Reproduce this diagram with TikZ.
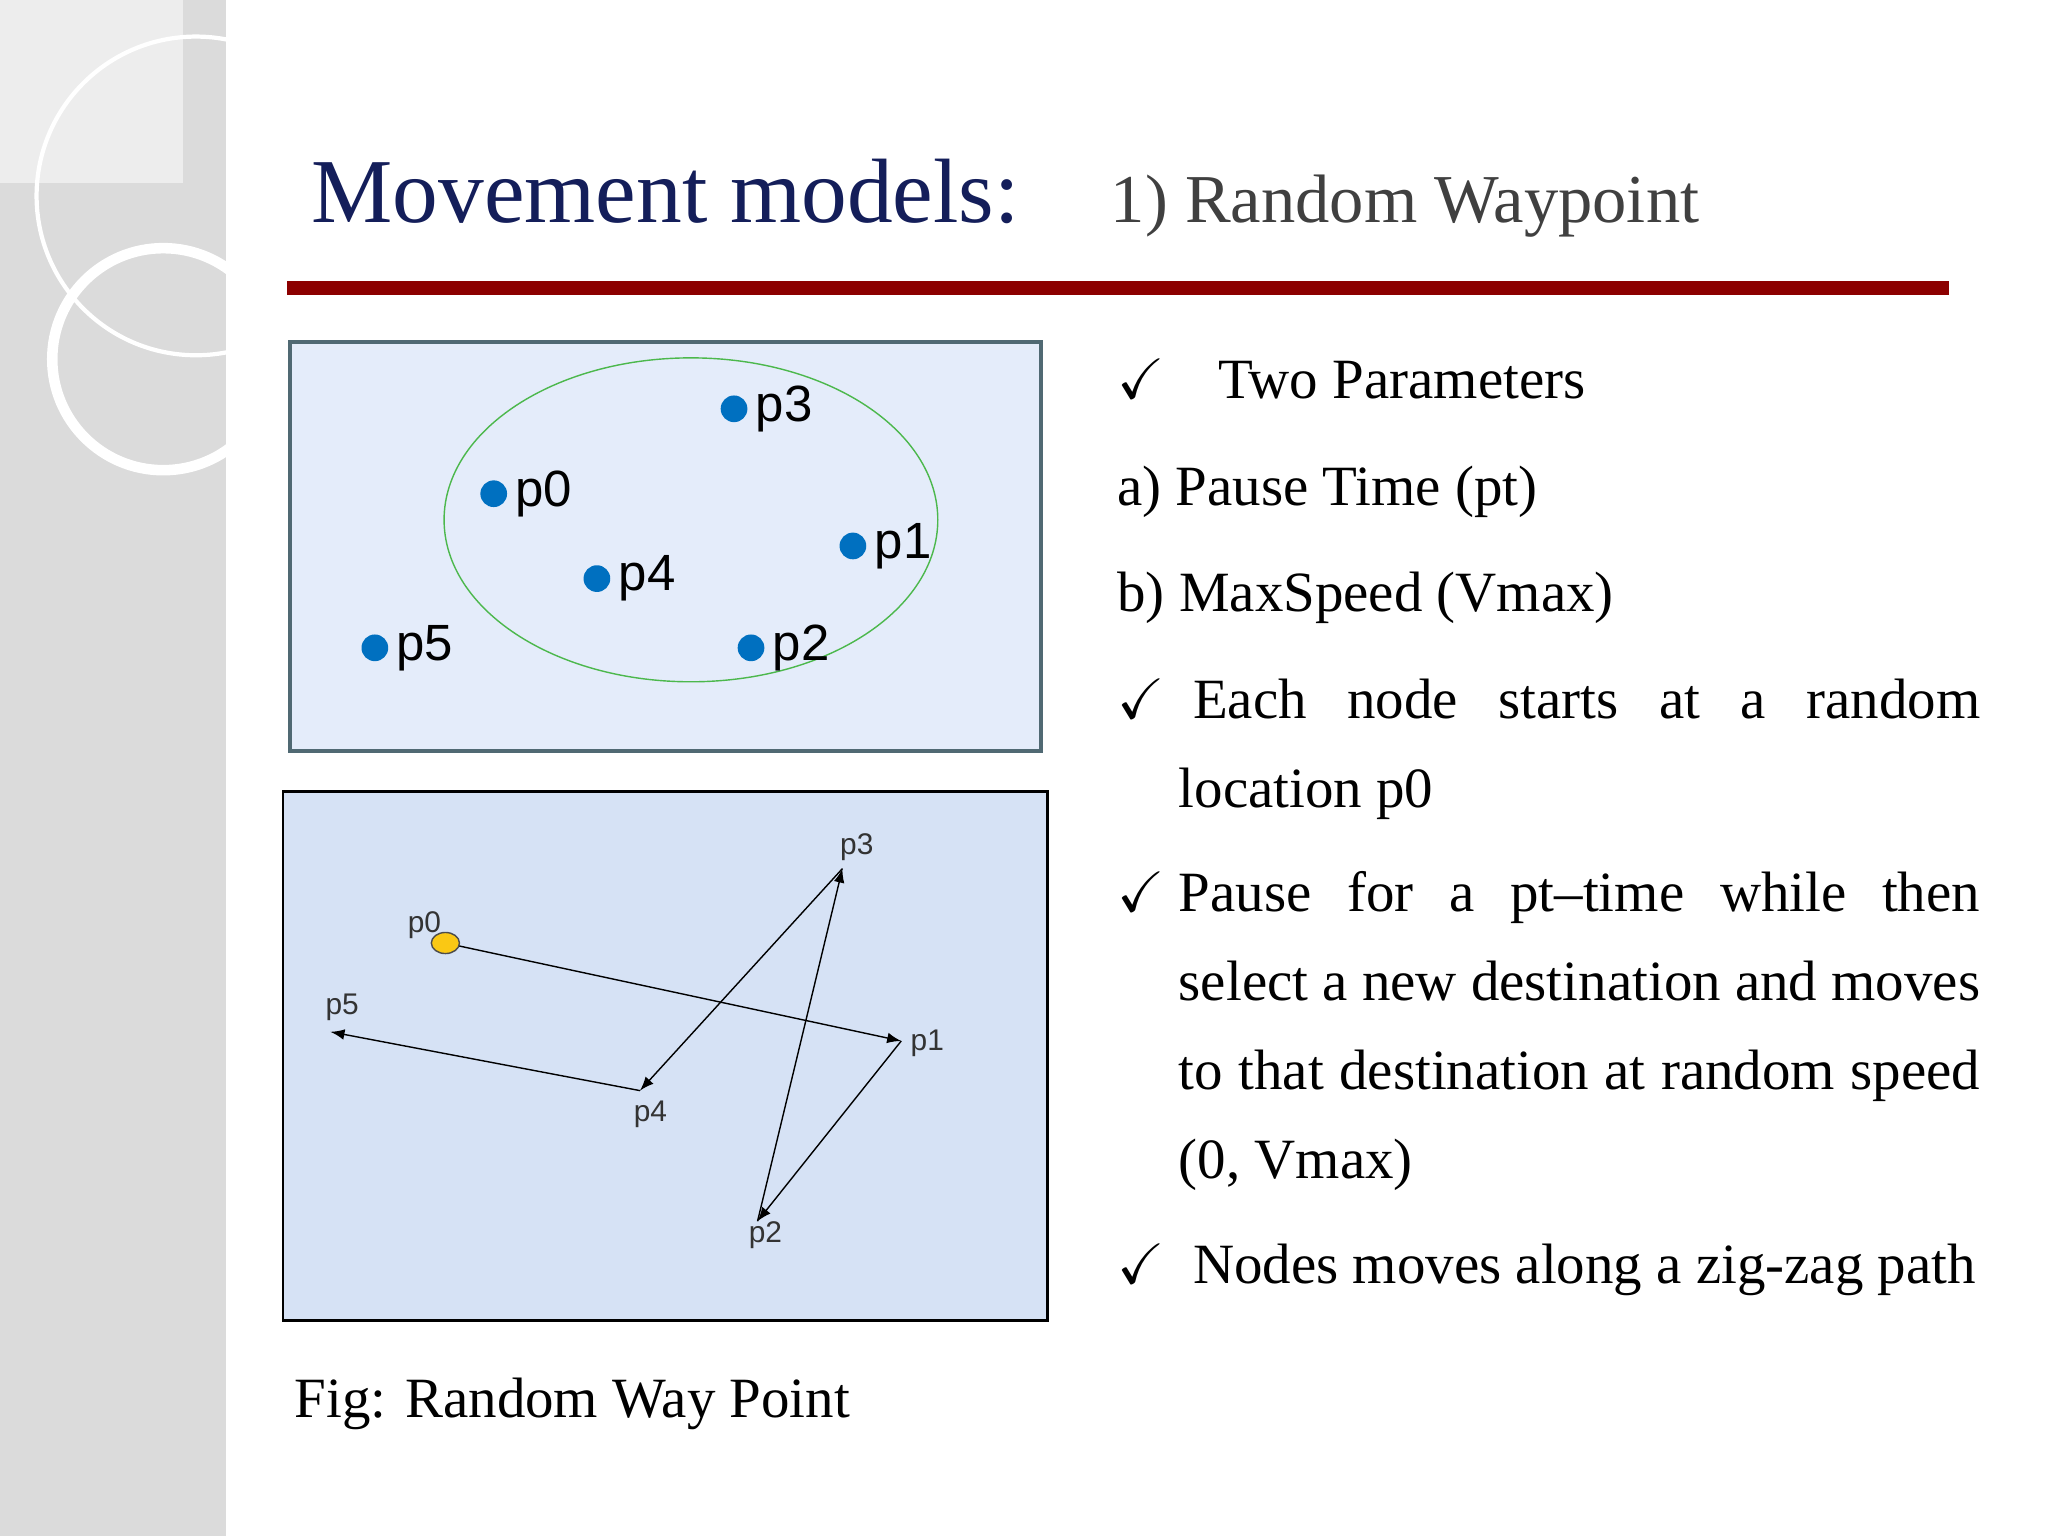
\documentclass[tikz,border=0pt]{standalone}
\usepackage{fontspec}
\setmainfont{Liberation Serif}
\newfontfamily\sff{Liberation Sans}
\usepackage{amssymb}
\usetikzlibrary{shapes.geometric}
\begin{document}
\begin{tikzpicture}[x=0.01306cm,y=-0.01306cm,
  dot/.style={circle,fill={rgb,255:red,0;green,112;blue,192},inner sep=0pt,minimum size=7.6pt},
  plab/.style={font=\sff\fontsize{14.5}{17}\selectfont,anchor=west,inner sep=1pt},
  slab/.style={font=\sff\fontsize{8.5}{9}\selectfont,text=black!80,inner sep=1pt},
  body/.style={font=\fontsize{16.2}{20}\selectfont,anchor=base west,inner sep=0pt},
  arr/.style={-latex,thin,black}]
\useasboundingbox (0,0) rectangle (1568,1176);
\fill[white] (0,0) rectangle (1568,1176);
\fill[black!14] (0,0) rectangle (173,1176);
\begin{scope}
\clip (0,0) rectangle (173,1176);
\fill[black!7] (0,0) rectangle (140,140);
\draw[white,line width=1.2pt] (150,150) circle (122);
\draw[white,line width=3pt] (125,275) circle (85);
\end{scope}
\node[font=\fontsize{26}{30}\selectfont,text={rgb,255:red,20;green,30;blue,90},anchor=base west,inner sep=0pt] (t1) at (238,170) {Movement models:};
\node[font=\fontsize{19.5}{23}\selectfont,text=black!75,anchor=base west,inner sep=0pt] (t2) at (850,170) {1) Random Waypoint};
\fill[red!55!black] (220,215) rectangle (1492,226);
% top figure
\draw[line width=1.1pt,fill={rgb,255:red,228;green,236;blue,250},draw={rgb,255:red,80;green,105;blue,115}] (222,262) rectangle (797,575);
\draw[green!60!black!70,thin] (529,398) ellipse (189 and 124);
\foreach \n/\x/\y in {p3/562/313,p0/378/378,p1/653/418,p4/457/443,p5/287/496,p2/575/496}{
  \node[dot] (\n) at (\x,\y) {};
  \node[plab] at ([xshift=1pt]\n.east) {\n};}
% bottom figure
\draw[line width=0.6pt,fill={rgb,255:red,214;green,226;blue,245}] (217,606) rectangle (802,1011);
\coordinate (q0) at (341,722);
\coordinate (q1) at (690,797);
\coordinate (q2) at (580,935);
\coordinate (q3) at (645,665);
\coordinate (q4) at (490,835);
\coordinate (q5) at (253,790);
\draw[arr] (q0) -- (q1);
\draw[arr] (q1) -- (q2);
\draw[arr] (q2) -- (q3);
\draw[arr] (q3) -- (q4);
\draw[arr] (q4) -- (q5);
\node[ellipse,draw=black!70,fill={rgb,255:red,250;green,200;blue,20},minimum width=8pt,minimum height=6pt,inner sep=0pt] (o0) at (q0) {};
\node[slab] at (325,708) {p0};
\node[slab] at (262,771) {p5};
\node[slab] at (710,799) {p1};
\node[slab] at (498,853) {p4};
\node[slab] at (586,946) {p2};
\node[slab] at (656,649) {p3};
\node[body] at (225,1085) {Fig: Random Way Point};
% right text
\node[body] at (855,305) {$\checkmark$};
\node[body] at (932,305) {Two Parameters};
\node[body] at (855,387) {a) Pause Time (pt)};
\node[body] at (855,468) {b) MaxSpeed (Vmax)};
\node[body] at (855,550) {$\checkmark$};
\node[body,text width=224pt] at (913,550) {Each\hfill node\hfill starts\hfill at\hfill a\hfill random};
\node[body] at (902,618) {location p0};
\node[body] at (855,698) {$\checkmark$};
\node[body,text width=228pt] at (902,698) {Pause\hfill for\hfill a\hfill pt--time\hfill while\hfill then};
\node[body,text width=228pt] at (902,766) {select\hfill a\hfill new\hfill destination\hfill and\hfill moves};
\node[body,text width=228pt] at (902,834) {to\hfill that\hfill destination\hfill at\hfill random\hfill speed};
\node[body] at (902,902) {(0, Vmax)};
\node[body] at (855,983) {$\checkmark$};
\node[body] at (913,983) {Nodes moves along a zig-zag path};
\end{tikzpicture}
\end{document}
